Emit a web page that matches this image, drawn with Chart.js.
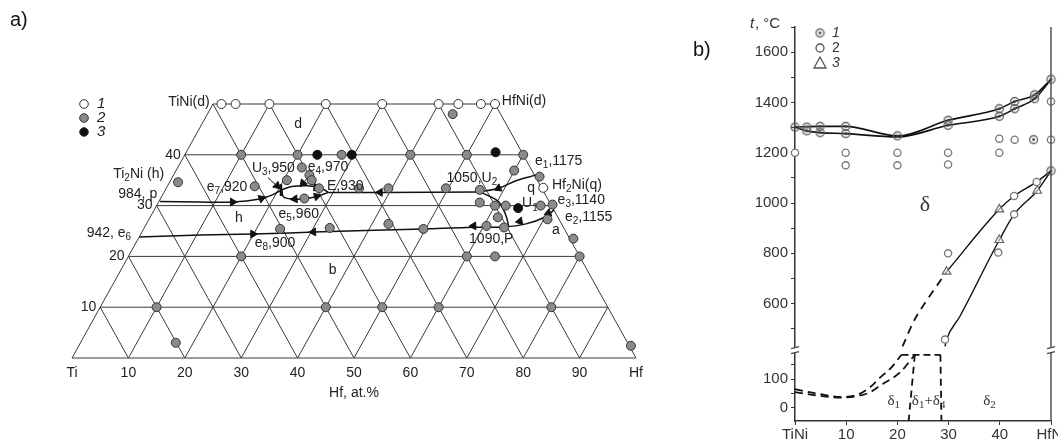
<!DOCTYPE html>
<html>
<head>
<meta charset="utf-8">
<script src="https://cdn.jsdelivr.net/npm/chart.js@4.4.1/dist/chart.umd.min.js"></script>
<style>
  html, body { margin: 0; padding: 0; background: #fff; }
  body { width: 1058px; height: 441px; position: relative; overflow: hidden; font-family: "Liberation Sans", Arial, sans-serif; }
  #wrapA { position: absolute; left: 0; top: 0; width: 680px; height: 441px; }
  #wrapB { position: absolute; left: 690px; top: 0; width: 368px; height: 441px; }
  .tag { position: absolute; font-size: 20px; color: #111; z-index: 5; }
</style>
</head>
<body>
<div id="wrapA"><canvas id="ternary" width="680" height="441"></canvas></div>
<div id="wrapB"><canvas id="binary" width="368" height="441"></canvas></div>
<div class="tag" style="left:10px;top:8px">a)</div>
<div class="tag" style="left:693px;top:38px">b)</div>
<script>
const FONT = '"Liberation Sans", Arial, sans-serif';
const INK = '#222';

// ---------- a) projection of the Ti–TiNi–HfNi–Hf part, compositions as [Hf at.%, Ni at.%] ----------
const hfGrid = [0, 10, 20, 30, 40, 50, 60, 70, 80, 90];
const niGrid = [0, 10, 20, 30, 40, 50];

// 1 - single phase, 2 - two phase, 3 - three phase
const alloys1 = [[1.5, 50], [4, 50], [10, 50], [20, 50], [30, 50], [40, 50], [43.5, 50], [47.5, 50], [50, 50], [66.8, 33.5]];
const alloys2 = [
  [43.5, 48], [10, 40], [20, 40], [27.8, 40], [40, 40], [50, 40], [60, 40],
  [22, 37.5], [24.1, 36], [25, 35], [20.6, 35], [15.5, 33.8], [27.1, 33.4], [25.5, 31.4],
  [34.2, 33.4], [39.4, 33.4], [49.6, 33.4], [55.75, 33.1], [59.95, 36.9], [65.05, 35.7],
  [57, 30.6], [60, 30], [61.9, 30], [68.1, 30], [70.1, 30.2], [70.65, 27.3], [61.65, 27.7],
  [63.75, 25.7], [60.5, 26], [49.6, 25.4], [42.9, 26.4], [77.15, 23.5], [80, 20], [1.5, 34.6],
  [24.2, 25.4], [32.9, 25.6], [20, 20], [60, 20], [65, 20], [10, 10], [40, 10], [50, 10],
  [60, 10], [80, 10], [16.9, 3], [97.9, 2.4]
];
const alloys3 = [[23.5, 40], [29.6, 40], [54.85, 40.5], [64.35, 29.5]];

// monovariant curves
const curveP = [[0.2, 30.8], [7.35, 30.7], [13.15, 30.7], [17.65, 31.3], [19.45, 32.1], [20.65, 33.1]];
const loopUpper = [[20.65, 33.1], [22.07, 33.76], [24.65, 33.9], [26.9, 33.6], [28.4, 33.0], [29.1, 32.6]];
const loopLower = [[20.65, 33.1], [21.65, 31.7], [23.55, 31.3], [25.35, 31.3], [27.5, 31.8], [28.95, 32.5], [29.1, 32.6]];
const lineEU2 = [[29.1, 32.6], [38.3, 32.6], [55.95, 32.7]];
const curveE1 = [[64.2, 36.0], [61.25, 34.9], [58.9, 33.4], [55.95, 32.7]];
const curveU2P = [[55.95, 32.7], [58.2, 31.8], [60.2, 30.8], [61.9, 29.2], [63.35, 27.5], [64.45, 25.9]];
const curveE2E6 = [[0, 23.8], [10.6, 24.2], [19.9, 24.4], [26.4, 24.6], [30.4, 24.8], [39.45, 25.1], [49.6, 25.4],
  [57.15, 25.7], [63.7, 25.8], [67.3, 26.4], [70.1, 27.8], [70.9, 29.2]];
const pointerE4 = [[24.3, 36.4], [23.65, 34.1]];
const pointerU3 = [[17.0, 35.5], [19.65, 33.7]];
const tieU3 = [[21.1, 31.9], [19.95, 34.2]];
// arrow heads: [Hf, Ni, direction deg]
const arrows = [
  [13.15, 30.7, 90], [17.9, 31.4, 70], [23.85, 31.3, 265], [27.5, 31.8, 75], [26.5, 33.6, 95],
  [38.3, 32.6, 270], [58.9, 33.4, 247], [70.2, 28.5, 250], [65.95, 26.9, 260], [58.2, 26.0, 268],
  [30.4, 24.8, 268], [19.9, 24.4, 90], [23.75, 34.4, 220], [19.4, 33.9, 133]
];

const labelsA = [
  ['TiNi(d)', 24.4, 50.3, 'right'], ['HfNi(d)', 76.2, 50.5, 'left'], ['d', 40.1, 46.1, 'center'],
  ['Ti_2Ni (h)', 7.3, 36.2, 'left'], ['984, p', 8.2, 32.3, 'left'], ['942, e_6', 2.6, 24.6, 'left'],
  ['e_7,920', 23.9, 33.6, 'left'], ['U_3,950', 31.9, 37.4, 'left'], ['e_4,970', 41.8, 37.6, 'left'],
  ['E,930', 45.2, 33.9, 'left'], ['h', 29.6, 27.6, 'center'], ['e_5,960', 36.6, 28.4, 'left'],
  ['e_8,900', 32.4, 22.7, 'left'], ['b', 46.2, 17.3, 'center'], ['1050,U_2', 66.4, 35.4, 'left'],
  ['e_1,1175', 82.1, 38.7, 'left'], ['q', 81.4, 33.4, 'center'], ['Hf_2Ni(q)', 85.1, 34.1, 'left'],
  ['U_1', 79.8, 30.4, 'left'], ['e_3,1140', 86.1, 31.0, 'left'], ['e_2,1155', 87.4, 27.8, 'left'],
  ['a', 85.8, 25.1, 'center'], ['1090,P', 70.4, 23.3, 'left']
];

// ---------- b) TiNi–HfNi section, [at.% Hf, t °C] ----------
const marks1 = [[0, 1302], [2.3, 1302], [2.3, 1287], [4.9, 1305], [4.9, 1280], [9.9, 1305], [9.9, 1276],
  [20, 1267], [29.9, 1329], [29.9, 1309], [39.9, 1375], [39.9, 1345], [42.9, 1404], [42.9, 1375],
  [46.8, 1430], [46.8, 1415], [50, 1492], [46.6, 1252], [50, 1128]];
const marks2 = [[0, 1200], [9.9, 1200], [9.9, 1150], [20, 1200], [20, 1150], [29.9, 1200], [29.9, 1153],
  [39.9, 1256], [39.9, 1200], [42.9, 1252], [50, 1252], [50, 1404], [29.9, 800], [39.7, 803],
  [42.8, 1028], [42.8, 955], [47.2, 1084], [29.3, 457]];
const marks3 = [[29.6, 727], [39.9, 853], [39.9, 975], [47.3, 1049]];

const liquidus = [[0, 1302], [4.9, 1305], [9.9, 1305], [20, 1267], [29.9, 1329], [39.9, 1375], [42.9, 1404], [46.8, 1430], [50, 1492]];
const solidus = [[0, 1302], [2.3, 1287], [4.9, 1280], [9.9, 1276], [20, 1263], [29.9, 1309], [39.9, 1345], [42.9, 1375], [46.8, 1415], [50, 1492]];
const deltaUpper = [[29.6, 727], [39.9, 975], [42.8, 1028], [47.2, 1084], [50, 1128]];
const deltaUpperDash = [[21.0, 430], [23.7, 549], [29.6, 727]];
const deltaLower = [[29.3, 430], [29.6, 457], [32.2, 549], [39.9, 853], [42.8, 955], [47.3, 1049], [50, 1128]];
const lowCurve1 = [[0, 65], [4.9, 48], [9, 38], [12.5, 48], [14.6, 71], [16.6, 105], [18.8, 140], [20.8, 184]];
const lowCurve2 = [[0, 55], [4.9, 42], [9, 36], [12.5, 42], [14.6, 54], [16.6, 77], [20.5, 123], [23.4, 184]];
const lowFlat = [[20.8, 184], [28.4, 184]];
const lowVert1 = [[23.4, 184], [22.2, -45]];
const lowVert2 = [[28.4, 184], [28.6, -45]];
const labelsB = [['δ', 25.4, 992, 'yHigh'], ['δ_1', 19.3, 25, 'yLow'], ['δ_1+δ_4', 26.1, 25, 'yLow'], ['δ_2', 38, 25, 'yLow']];

// ---------- helpers ----------
const proj = ([h, n]) => ({ x: h + n / 2, y: n });
const xy = ([x, t]) => ({ x: x, y: t });

function drawRich(ctx, str, x, y, align, size, family, style) {
  const parts = [];
  for (let i = 0; i < str.length; i++) {
    if (str[i] === '_') { parts.push({ t: str[i + 1], sub: true }); i++; }
    else if (parts.length && !parts[parts.length - 1].sub) parts[parts.length - 1].t += str[i];
    else parts.push({ t: str[i], sub: false });
  }
  const fnt = sub => (style || '') + ' ' + (sub ? Math.round(size * 0.72) : size) + 'px ' + family;
  let w = 0;
  parts.forEach(p => { ctx.font = fnt(p.sub); p.w = ctx.measureText(p.t).width; w += p.w; });
  let cx = align === 'right' ? x - w : align === 'center' ? x - w / 2 : x;
  ctx.textAlign = 'left';
  ctx.textBaseline = 'middle';
  parts.forEach(p => {
    ctx.font = fnt(p.sub);
    ctx.fillText(p.t, cx, p.sub ? y + size * 0.3 : y);
    cx += p.w;
  });
}

function lineSet(pts, map, opts) {
  return Object.assign({
    data: pts.map(map), showLine: true, pointRadius: 0, borderColor: '#111',
    borderWidth: 1.5, fill: false, clip: false
  }, opts || {});
}

// ---------- chart a) ----------
const gridSets = [];
niGrid.forEach(n => gridSets.push(lineSet([[0, n], [100 - n, n]], proj, { borderColor: '#3a3a3a', borderWidth: 1 })));
hfGrid.forEach(h => gridSets.push(lineSet([[h, 0], [h, Math.min(50, 100 - h)]], proj, { borderColor: '#3a3a3a', borderWidth: 1 })));
hfGrid.forEach(t => {
  const top = Math.min(50, 100 - t);
  gridSets.push(lineSet([[100 - t, 0], [100 - t - top, top]], proj, { borderColor: '#3a3a3a', borderWidth: 1 }));
});

const curveSets = [curveP, loopUpper, loopLower, lineEU2, curveE1, curveU2P, curveE2E6]
  .map(c => lineSet(c, proj, { tension: 0.35 }));
curveSets.push(lineSet(pointerE4, proj, { borderWidth: 1 }));
curveSets.push(lineSet(pointerU3, proj, { borderWidth: 1 }));
curveSets.push(lineSet(tieU3, proj, { borderWidth: 2.5 }));

const ternaryText = {
  id: 'ternaryText',
  afterDraw(chart) {
    const ctx = chart.ctx, xs = chart.scales.x, ys = chart.scales.y;
    ctx.save();
    ctx.fillStyle = INK;
    labelsA.forEach(([t, x, n, al]) => drawRich(ctx, t, xs.getPixelForValue(x), ys.getPixelForValue(n), al, 14, FONT));
    [10, 20, 30, 40].forEach(n => drawRich(ctx, String(n), xs.getPixelForValue(n / 2 - 0.7), ys.getPixelForValue(n), 'right', 14, FONT));
    // legend
    const lx = 84, ly = [104, 118, 132], fills = ['#fff', '#8a8a8a', '#111'];
    ly.forEach((y, i) => {
      ctx.beginPath(); ctx.arc(lx, y, 4.3, 0, Math.PI * 2);
      ctx.fillStyle = fills[i]; ctx.fill();
      ctx.lineWidth = 1; ctx.strokeStyle = '#333'; ctx.stroke();
      ctx.fillStyle = INK;
      drawRich(ctx, String(i + 1), lx + 13, y, 'left', 15, FONT, 'italic');
    });
    ctx.restore();
  }
};

new Chart(document.getElementById('ternary'), {
  type: 'scatter',
  data: {
    datasets: [
      { data: alloys1.map(proj), pointRadius: 4.5, pointBackgroundColor: '#fff', pointBorderColor: '#333', pointBorderWidth: 1, clip: false },
      { data: alloys2.map(proj), pointRadius: 4.5, pointBackgroundColor: '#8a8a8a', pointBorderColor: '#333', pointBorderWidth: 1, clip: false },
      { data: alloys3.map(proj), pointRadius: 4.5, pointBackgroundColor: '#111', pointBorderColor: '#111', pointBorderWidth: 1, clip: false },
      { data: arrows.map(a => proj([a[0], a[1]])), pointStyle: 'triangle', pointRadius: 4.5,
        pointRotation: arrows.map(a => a[2]), pointBackgroundColor: '#111', pointBorderColor: '#111', clip: false },
      ...curveSets,
      ...gridSets
    ]
  },
  options: {
    responsive: false,
    animation: false,
    layout: { padding: { left: 72, right: 44, top: 104, bottom: 36 } },
    plugins: { legend: { display: false }, tooltip: { enabled: false } },
    scales: {
      x: {
        type: 'linear', min: 0, max: 100,
        grid: { display: false, drawTicks: false },
        border: { display: false },
        ticks: {
          stepSize: 10, autoSkip: false, maxRotation: 0, padding: 7, color: INK,
          font: { family: FONT, size: 14 },
          callback: v => (v === 0 ? 'Ti' : v === 100 ? 'Hf' : v)
        },
        title: { display: true, text: 'Hf, at.%', color: INK, font: { family: FONT, size: 14 }, padding: { top: 0, bottom: 3 } },
        afterFit: s => { s.height = 47; s.paddingLeft = 0; s.paddingRight = 0; }
      },
      y: { type: 'linear', min: 0, max: 50, display: false }
    }
  },
  plugins: [ternaryText]
});

// ---------- chart b) ----------
function ringDot() {
  const c = document.createElement('canvas');
  c.width = c.height = 11;
  const g = c.getContext('2d');
  g.strokeStyle = '#666'; g.lineWidth = 1.4;
  g.beginPath(); g.arc(5.5, 5.5, 4, 0, Math.PI * 2); g.stroke();
  g.fillStyle = '#444';
  g.beginPath(); g.arc(5.5, 5.5, 1.4, 0, Math.PI * 2); g.fill();
  return c;
}
const dotRing = ringDot();

const binaryText = {
  id: 'binaryText',
  afterDraw(chart) {
    const ctx = chart.ctx, xs = chart.scales.x, yh = chart.scales.yHigh, yl = chart.scales.yLow;
    const area = chart.chartArea;
    ctx.save();
    // HfNi line
    const xr = xs.getPixelForValue(50);
    ctx.strokeStyle = '#555'; ctx.lineWidth = 1.5;
    ctx.beginPath(); ctx.moveTo(xr, area.top); ctx.lineTo(xr, area.bottom); ctx.stroke();
    // axis breaks
    const yb = yl.top;
    [area.left, xr].forEach(x0 => {
      ctx.fillStyle = '#fff';
      ctx.fillRect(x0 - 4, yb - 2.5, 8, 5);
      ctx.strokeStyle = '#444'; ctx.lineWidth = 1.2;
      [-2.5, 2.5].forEach(d => {
        ctx.beginPath(); ctx.moveTo(x0 - 4, yb + d + 1); ctx.lineTo(x0 + 4, yb + d - 1); ctx.stroke();
      });
    });
    // axis caption
    ctx.fillStyle = '#333';
    ctx.font = 'italic 15px ' + FONT; ctx.textBaseline = 'middle'; ctx.textAlign = 'left';
    ctx.fillText('t', 60, 24);
    ctx.font = '15px ' + FONT;
    ctx.fillText(', °C', 65, 24);
    // legend
    const lx = 130;
    ctx.drawImage(dotRing, lx - 5.5, 33 - 5.5);
    ctx.strokeStyle = '#555'; ctx.lineWidth = 1.3;
    ctx.beginPath(); ctx.arc(lx, 48, 4, 0, Math.PI * 2); ctx.stroke();
    ctx.beginPath(); ctx.moveTo(lx, 57); ctx.lineTo(lx + 6, 68); ctx.lineTo(lx - 6, 68); ctx.closePath(); ctx.stroke();
    ctx.fillStyle = '#333';
    ['1', '2', '3'].forEach((t, i) => drawRich(ctx, t, lx + 12, [33, 48, 63][i], 'left', 14, FONT, i === 1 ? '' : 'italic'));
    // phase labels
    labelsB.forEach(([t, x, v, ax]) => {
      const sc = ax === 'yHigh' ? yh : yl;
      drawRich(ctx, t, xs.getPixelForValue(x), sc.getPixelForValue(v), 'center', t === 'δ' ? 22 : 15, '"Liberation Serif", "DejaVu Serif", serif');
    });
    ctx.restore();
  }
};

const axisColor = '#333';
new Chart(document.getElementById('binary'), {
  type: 'scatter',
  data: {
    datasets: [
      { data: marks1.map(xy), yAxisID: 'yHigh', pointStyle: dotRing, pointRadius: 4, clip: false },
      { data: marks2.map(xy), yAxisID: 'yHigh', pointRadius: 3.6, pointBackgroundColor: '#fff', pointBorderColor: '#777', pointBorderWidth: 1.3, clip: false },
      { data: marks3.map(xy), yAxisID: 'yHigh', pointStyle: 'triangle', pointRadius: 5, pointBackgroundColor: 'rgba(255,255,255,0.6)', pointBorderColor: '#666', pointBorderWidth: 1.2, clip: false },
      lineSet(liquidus, xy, { yAxisID: 'yHigh', cubicInterpolationMode: 'monotone', borderWidth: 1.6 }),
      lineSet(solidus, xy, { yAxisID: 'yHigh', cubicInterpolationMode: 'monotone', borderWidth: 1.6 }),
      lineSet(deltaUpper, xy, { yAxisID: 'yHigh', cubicInterpolationMode: 'monotone', borderWidth: 1.4 }),
      lineSet(deltaUpperDash, xy, { yAxisID: 'yHigh', tension: 0.3, borderWidth: 1.8, borderDash: [8, 6] }),
      lineSet(deltaLower, xy, { yAxisID: 'yHigh', cubicInterpolationMode: 'monotone', borderWidth: 1.4 }),
      lineSet(lowCurve1, xy, { yAxisID: 'yLow', cubicInterpolationMode: 'monotone', borderWidth: 1.8, borderDash: [8, 5] }),
      lineSet(lowCurve2, xy, { yAxisID: 'yLow', cubicInterpolationMode: 'monotone', borderWidth: 1.8, borderDash: [8, 5] }),
      lineSet(lowFlat, xy, { yAxisID: 'yLow', borderWidth: 1.8, borderDash: [7, 4] }),
      lineSet(lowVert1, xy, { yAxisID: 'yLow', borderWidth: 1.8, borderDash: [7, 5] }),
      lineSet(lowVert2, xy, { yAxisID: 'yLow', borderWidth: 1.8, borderDash: [7, 5] })
    ]
  },
  options: {
    responsive: false,
    animation: false,
    layout: { padding: { left: 0, right: 7, top: 27, bottom: 0 } },
    plugins: { legend: { display: false }, tooltip: { enabled: false } },
    scales: {
      x: {
        type: 'linear', min: 0, max: 50,
        grid: { drawOnChartArea: false, tickLength: 4, color: axisColor },
        border: { color: axisColor, width: 1.5 },
        ticks: {
          stepSize: 10, autoSkip: false, maxRotation: 0, padding: 1, color: '#333',
          font: { family: FONT, size: 15 },
          callback: v => (v === 0 ? 'TiNi' : v === 50 ? 'HfNi' : v)
        },
        afterFit: s => { s.height = 20; s.paddingLeft = 0; s.paddingRight = 0; }
      },
      yLow: {
        type: 'linear', position: 'left', stack: 't', stackWeight: 71, min: -45, max: 200,
        grid: { drawOnChartArea: false, tickLength: 4, color: axisColor },
        border: { color: axisColor, width: 1.5 },
        ticks: {
          stepSize: 50, includeBounds: false, autoSkip: false, padding: 3, color: '#333',
          font: { family: FONT, size: 15 },
          callback: v => (v === 0 || v === 100 ? String(v) : '')
        },
        afterFit: s => { s.width = 105; }
      },
      yHigh: {
        type: 'linear', position: 'left', stack: 't', stackWeight: 324, min: 415, max: 1700,
        grid: { drawOnChartArea: false, tickLength: 4, color: axisColor },
        border: { color: axisColor, width: 1.5 },
        ticks: {
          stepSize: 100, includeBounds: false, autoSkip: false, padding: 3, color: '#333',
          font: { family: FONT, size: 15 },
          callback: v => (v % 200 === 0 && v < 1700 ? String(v) : '')
        },
        afterFit: s => { s.width = 105; }
      }
    }
  },
  plugins: [binaryText]
});
</script>
</body>
</html>
